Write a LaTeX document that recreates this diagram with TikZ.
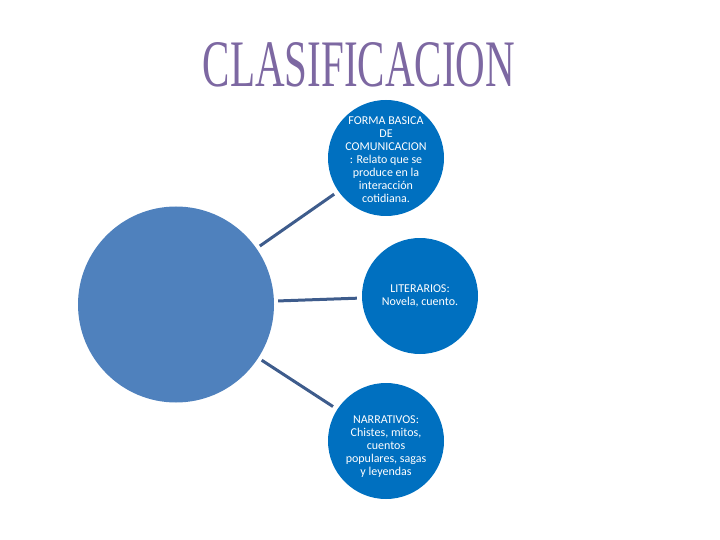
\documentclass[tikz,border=0pt]{standalone}
\usepackage{fontspec}
\setmainfont{Carlito}
\newfontfamily\titlefont{Liberation Serif}
\definecolor{bigblue}{RGB}{79,129,189}
\definecolor{smallblue}{RGB}{0,112,192}
\definecolor{linkblue}{RGB}{62,92,140}
\definecolor{titlepurple}{RGB}{125,104,162}
\tikzset{
  bigcirc/.style={circle, fill=bigblue, minimum size=196pt, inner sep=0pt},
  smallcirc/.style={circle, fill=smallblue, minimum size=116pt, inner sep=0pt},
  circtext/.style={text=white, font=\fontsize{12}{13}\selectfont, align=center, inner sep=0pt},
  link/.style={draw=linkblue, line width=3pt, shorten <=4pt, shorten >=5pt}
}
\begin{document}
\begin{tikzpicture}[x=1pt,y=-1pt]
\useasboundingbox (0,0) rectangle (720,540);
\node[text=titlepurple, anchor=base, inner sep=0pt] (title) at (359,87) {\resizebox{312pt}{44pt}{\titlefont CLASIFICACION}};
\node[bigcirc] (big) at (176,304.5) {};
\node[smallcirc] (top) at (386,158) {};
\node[smallcirc] (mid) at (420,296) {};
\node[smallcirc] (bot) at (386,441) {};
\node[circtext] (toptext) at (386,160)
  {FORMA BASICA\\DE\\COMUNICACION\\: Relato que se\\produce en la\\interacción\\cotidiana.};
\node[circtext] (midtext) at (420,296)
  {LITERARIOS:\\Novela, cuento.};
\node[circtext] (bottext) at (386,447)
  {NARRATIVOS:\\Chistes, mitos,\\cuentos\\populares, sagas\\y leyendas};
\draw[link] (big) -- (top);
\draw[link] (big) -- (mid);
\draw[link] (big) -- (bot);
\end{tikzpicture}
\end{document}
